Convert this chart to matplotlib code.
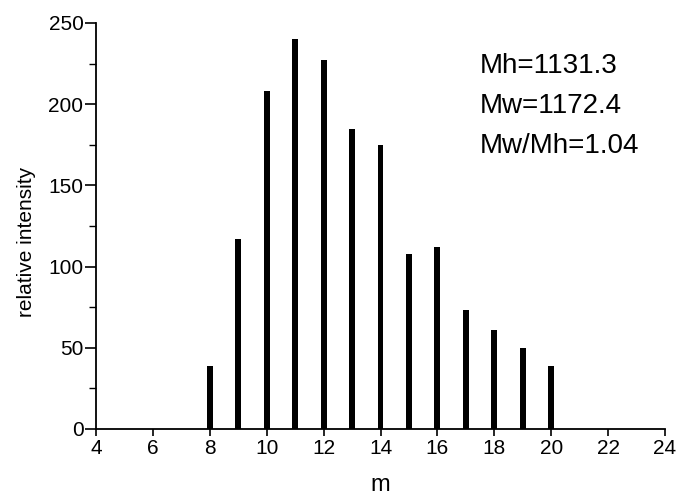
import numpy as np
import matplotlib.pyplot as plt
from matplotlib.ticker import MultipleLocator

plt.rcParams['font.family'] = ['Liberation Sans', 'DejaVu Sans']

# data
m = [8, 9, 10, 11, 12, 13, 14, 15, 16, 17, 18, 19, 20]
intensity = [39, 117, 208, 240, 227, 185, 175, 108, 112, 73, 61, 50, 39]
notes = ["Mh=1131.3", "Mw=1172.4", "Mw/Mh=1.04"]

fig = plt.figure(figsize=(6.77, 5.0), dpi=100)
ax = fig.add_axes([0.1418, 0.142, 0.8405, 0.812])

ax.bar(m, intensity, width=0.21, color='black')

ax.set_xlim(4, 24)
ax.set_ylim(0, 250)
ax.set_xticks(np.arange(4, 25, 2))
ax.yaxis.set_major_locator(MultipleLocator(50))
ax.yaxis.set_minor_locator(MultipleLocator(25))

ax.spines['top'].set_visible(False)
ax.spines['right'].set_visible(False)
ax.spines['left'].set_linewidth(1.3)
ax.spines['bottom'].set_linewidth(1.3)

ax.tick_params(axis='both', which='major', direction='out', labelsize=15, width=1.2)
ax.tick_params(axis='y', which='major', length=8, pad=1)
ax.tick_params(axis='y', which='minor', length=5, width=1.0)
ax.tick_params(axis='x', which='major', length=5, pad=2)

ax.set_xlabel('m', fontsize=17, labelpad=12)
ax.set_ylabel('relative intensity', fontsize=15)
ax.yaxis.set_label_coords(-0.105, 0.46)

for i, s in enumerate(notes):
    ax.text(0.674, 0.925 - i * 0.0985, s, transform=ax.transAxes,
            fontsize=20, va='top', ha='left')

plt.savefig('out.png', dpi=100)
